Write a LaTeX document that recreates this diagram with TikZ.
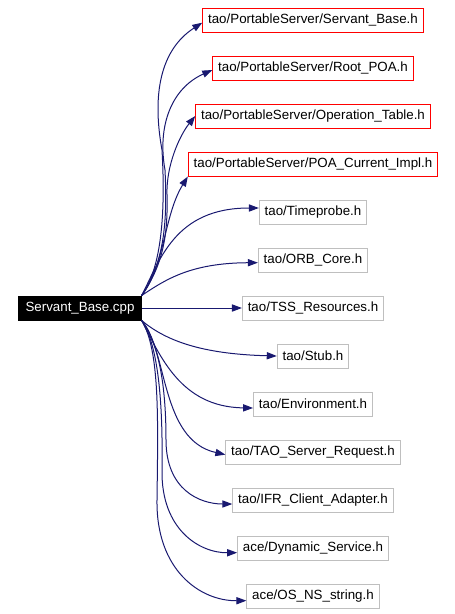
\documentclass[tikz,border=0pt]{standalone}
\usepackage{fontspec}
\setmainfont{Liberation Sans}
\usetikzlibrary{positioning, arrows.meta}
\definecolor{edgeblue}{HTML}{191970}
\definecolor{boxgray}{HTML}{BFBFBF}

\begin{document}
\begin{tikzpicture}[x=0.75pt, y=-0.75pt,
      every node/.style={font=\fontsize{10}{12}\selectfont, inner xsep=4pt, minimum height=18pt, line width=0.75pt},
      src/.style={draw=black, fill=black, text=white, inner xsep=5pt},
      hdr/.style={draw=red},
      inc/.style={draw=boxgray},
      dep/.style={draw=edgeblue, line width=0.75pt, -{Triangle[length=7.5pt, width=5.4pt]}}]
    \useasboundingbox (0,0) rectangle (454,614);
    % source file
    \node[src] (cpp) at (80,308) {Servant\_Base.cpp};
    % included headers
    \node[hdr] (sb) at (313,20) {tao/PortableServer/Servant\_Base.h};
    \node[hdr, below=17.25pt of sb] (rp) {tao/PortableServer/Root\_POA.h};
    \node[hdr, below=17.25pt of rp] (ot) {tao/PortableServer/Operation\_Table.h};
    \node[hdr, below=17.25pt of ot] (pc) {tao/PortableServer/POA\_Current\_Impl.h};
    \node[inc, below=17.25pt of pc] (tp) {tao/Timeprobe.h};
    \node[inc, below=17.25pt of tp] (oc) {tao/ORB\_Core.h};
    \node[inc, below=17.25pt of oc] (tss) {tao/TSS\_Resources.h};
    \node[inc, below=17.25pt of tss] (stub) {tao/Stub.h};
    \node[inc, below=17.25pt of stub] (env) {tao/Environment.h};
    \node[inc, below=17.25pt of env] (tsr) {tao/TAO\_Server\_Request.h};
    \node[inc, below=17.25pt of tsr] (ifr) {tao/IFR\_Client\_Adapter.h};
    \node[inc, below=17.25pt of ifr] (dyn) {ace/Dynamic\_Service.h};
    \node[inc, below=17.25pt of dyn] (osns) {ace/OS\_NS\_string.h};
    % edges
    \draw[dep] (cpp.north east) .. controls (160,270) and (166,220) .. (162,150)
      .. controls (152,95) and (160,50) .. ([yshift=-2pt]sb.west);
    \draw[dep] (cpp.north east) .. controls (162,265) and (168,230) .. (165,170)
      .. controls (157,125) and (172,88) .. ([yshift=-1.5pt]rp.west);
    \draw[dep] (cpp.north east) .. controls (163,265) and (168,235) .. (167,195)
      .. controls (166,165) and (180,135) .. (ot.west);
    \draw[dep] (cpp.north east) .. controls (165,265) and (164,215) .. (pc.south west);
    \draw[dep] (cpp.north east) .. controls (160,260) and (175,208) .. ([yshift=3pt]tp.west);
    \draw[dep] (cpp.north east) .. controls (165,280) and (190,263) .. ([yshift=-2pt]oc.west);
    \draw[dep] (cpp.east) -- (tss.west);
    \draw[dep] (cpp.south east) .. controls (165,340) and (200,354) .. (stub.west);
    \draw[dep] (cpp.south east) .. controls (160,355) and (180,407) .. ([yshift=-3pt]env.west);
    \draw[dep] (cpp.south east) .. controls (168,350) and (160,440) .. ([yshift=-2pt]tsr.west);
    \draw[dep] (cpp.south east) .. controls (160,345) and (166,390) .. (166,440)
      .. controls (166,490) and (200,504) .. ([yshift=-3pt]ifr.west);
    \draw[dep] (cpp.south east) .. controls (158,345) and (163,400) .. (162,470)
      .. controls (161,530) and (200,553) .. ([yshift=-3.5pt]dyn.west);
    \draw[dep] (cpp.south east) .. controls (160,350) and (158,420) .. (157,500)
      .. controls (156,570) and (200,601) .. ([yshift=-3.5pt]osns.west);
  \end{tikzpicture}
\end{document}
